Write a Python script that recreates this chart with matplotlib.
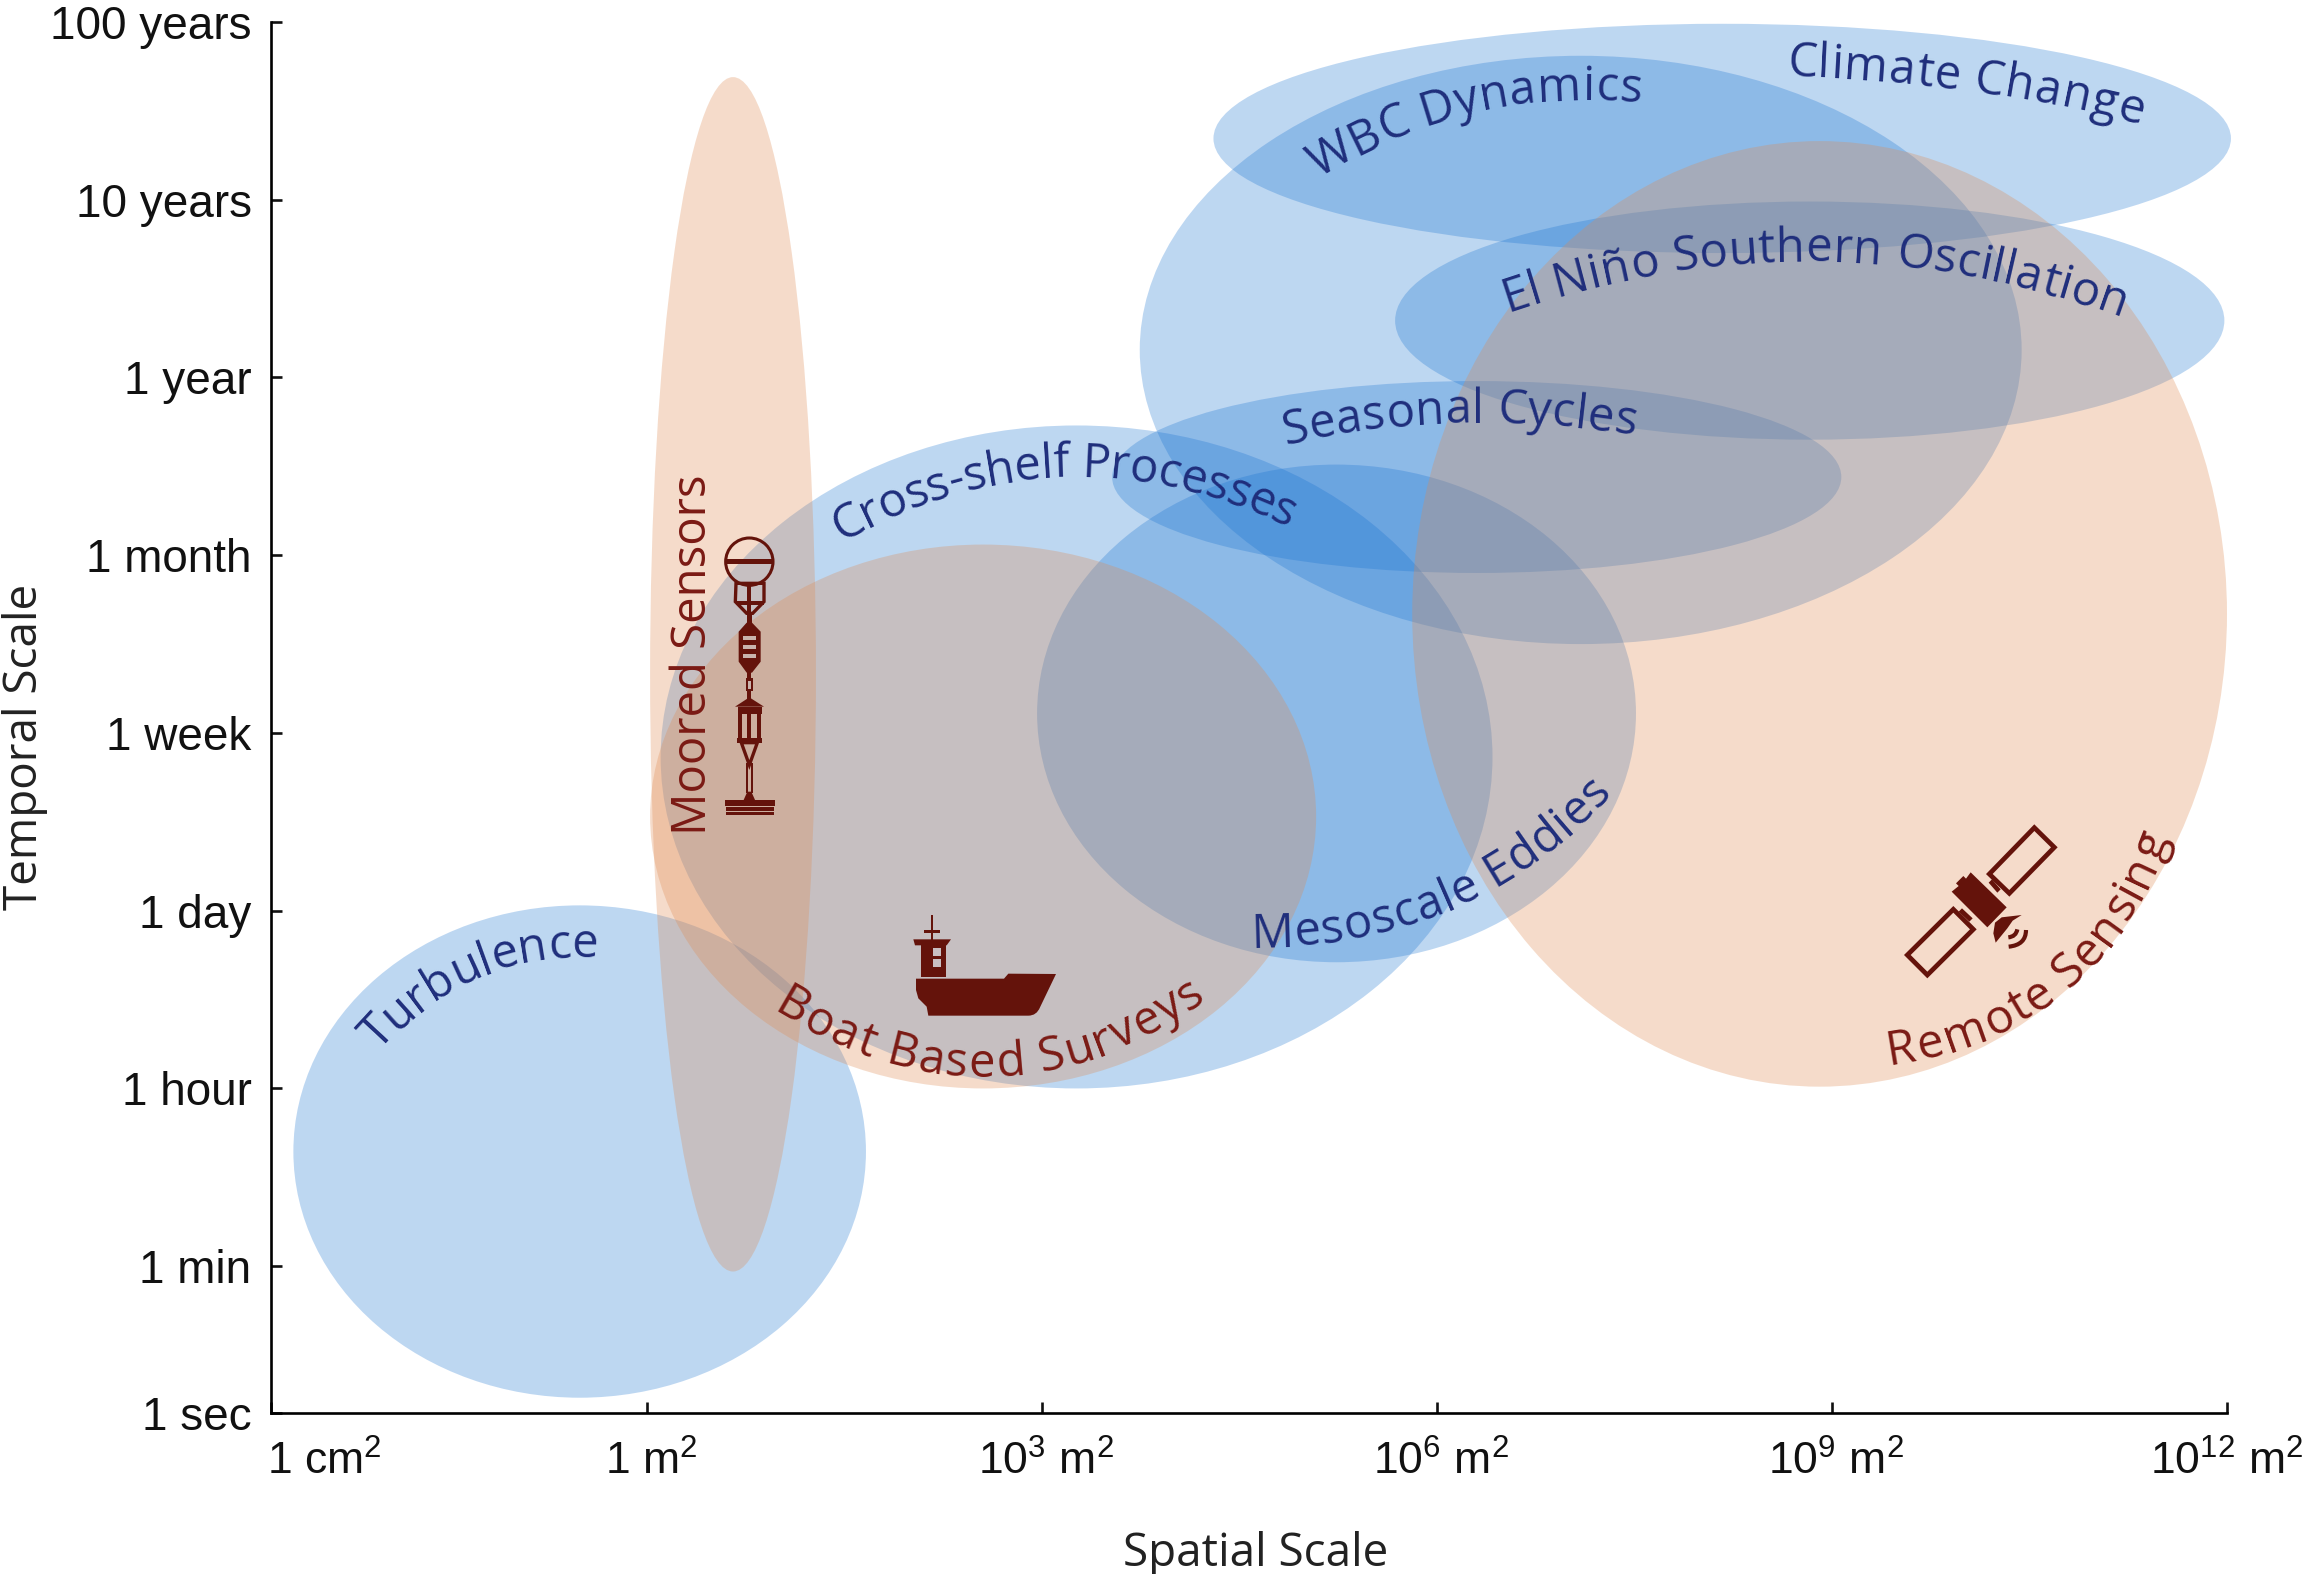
import numpy as np
import matplotlib
matplotlib.use('Agg')
import matplotlib.pyplot as plt
from matplotlib.patches import Ellipse, Polygon, Circle, Rectangle, PathPatch
from matplotlib.path import Path
from matplotlib.transforms import Affine2D, IdentityTransform, ScaledTranslation
from matplotlib import font_manager as fm
from matplotlib.ft2font import LoadFlags

plt.rcParams['font.family'] = ['Liberation Sans', 'DejaVu Sans']
plt.rcParams['mathtext.fontset'] = 'custom'
plt.rcParams['mathtext.rm'] = 'Liberation Sans'
plt.rcParams['mathtext.default'] = 'regular'

W, H = 2303, 1574
PREVIEW = W / 1568

# x = log10(area in m2), y = steps on the time axis (1 min = 0, 1 hour = 1, ...)
x_tick_pos = [-2.86, 0, 3, 6, 9, 12]
x_tick_labels = ['1 cm$^{2}$', '1 m$^{2}$', '10$^{3}$ m$^{2}$', '10$^{6}$ m$^{2}$',
                 '10$^{9}$ m$^{2}$', '10$^{12}$ m$^{2}$']
y_tick_pos = [-0.826, 0, 1, 2, 3, 4, 5, 6, 7]
y_tick_labels = ['1 sec', '1 min', '1 hour', '1 day', '1 week', '1 month', '1 year',
                 '10 years', '100 years']

# processes (blue)
blue_names = ['Turbulence', 'Cross-shelf Processes', 'Mesoscale Eddies', 'Seasonal Cycles',
              'WBC Dynamics', 'Climate Change', 'El Niño Southern Oscillation']
blue_x_low = [-2.69, 0.10, 2.96, 3.53, 3.74, 4.30, 5.68]
blue_x_high = [1.66, 6.42, 7.51, 9.07, 10.44, 12.03, 11.98]
blue_y_low = [-0.74, 1.00, 1.71, 3.90, 3.50, 5.70, 4.65]
blue_y_high = [2.03, 4.73, 4.51, 4.98, 6.81, 6.99, 5.99]

# platforms (orange)
orange_names = ['Boat Based Surveys', 'Remote Sensing', 'Moored Sensors']
orange_x_low = [0.02, 5.81, 0.02]
orange_x_high = [5.08, 12.0, 1.28]
orange_y_low = [1.00, 1.01, -0.03]
orange_y_high = [4.06, 6.33, 6.69]

BLUE = '#1470D0'
ORANGE = '#DE8A52'
NAVY = '#1F2E7C'
RED = '#7B1A14'
ICON = '#64130B'

# text baselines, in pixels of the 1568 wide preview
label_paths = {
    'Turbulence': [(258, 716), (326, 665), (407, 652)],
    'Cross-shelf Processes': [(573, 369), (720, 325), (877, 360)],
    'Mesoscale Eddies': [(851, 645), (985, 620), (1098, 540)],
    'Seasonal Cycles': [(875, 303), (990, 288), (1113, 297)],
    'WBC Dynamics': [(897, 122), (990, 80), (1117, 70)],
    'Climate Change': [(1216, 52), (1340, 62), (1458, 85)],
    'El Niño Southern Oscillation': [(1026, 213), (1230, 178), (1445, 217)],
    'Boat Based Surveys': [(525, 688), (680, 733), (822, 680)],
    'Remote Sensing': [(1285, 725), (1400, 680), (1476, 570)],
}
red_labels = ['Boat Based Surveys', 'Remote Sensing']

LABEL_FONT = fm.FontProperties(family='Open Sans')
LABEL_SIZE = 34


def curved_label(ax, text, pts, color, size=LABEL_SIZE):
    # one text per letter along a parabola through the baseline points
    pts = np.array(pts, dtype=float) * PREVIEW
    pts[:, 1] = H - pts[:, 1]
    seg = np.hypot(*np.diff(pts, axis=0).T)
    t = np.concatenate([[0], np.cumsum(seg)])
    px, py = np.polyfit(t, pts[:, 0], 2), np.polyfit(t, pts[:, 1], 2)
    tt = np.linspace(0, t[-1], 600)
    xx, yy = np.polyval(px, tt), np.polyval(py, tt)
    arc = np.concatenate([[0], np.cumsum(np.hypot(np.diff(xx), np.diff(yy)))])

    font = fm.get_font(fm.findfont(LABEL_FONT))
    font.set_size(size, 100)
    adv = np.array([font.load_char(ord(c), flags=LoadFlags.NO_HINTING).linearHoriAdvance / 65536
                    for c in text])
    gain = arc[-1] / adv.sum()
    mids = (np.cumsum(adv) - adv / 2) * gain
    for c, m in zip(text, mids):
        i = min(np.searchsorted(arc, m), len(xx) - 2)
        angle = np.degrees(np.arctan2(yy[i + 1] - yy[i], xx[i + 1] - xx[i]))
        ax.text(xx[i], yy[i], c, transform=IdentityTransform(), rotation=angle,
                rotation_mode='anchor', ha='center', va='baseline', color=color,
                fontproperties=LABEL_FONT, fontsize=size, zorder=6)


def crop_tf(x0, y0):
    # icon shapes are written in 3x crop pixels of the image
    return Affine2D().scale(1 / 3, -1 / 3).translate(x0, H - y0)


def poly(ax, tf, pts, fc=ICON, ec='none', lw=0):
    ax.add_patch(Polygon(pts, closed=True, fc=fc, ec=ec, lw=lw, transform=tf, zorder=5, clip_on=False))


def rect(ax, tf, x0, y0, x1, y1, fc=ICON):
    ax.add_patch(Rectangle((x0, y0), x1 - x0, y1 - y0, fc=fc, ec='none', transform=tf, zorder=5, clip_on=False))


def draw_buoy(ax):
    tf = crop_tf(640, 450)
    ax.add_patch(Circle((328, 335), 71, fc='none', ec=ICON, lw=2.2, transform=tf, zorder=5, clip_on=False))
    rect(ax, tf, 256, 328, 400, 342)
    # frame under the float
    poly(ax, tf, [(288, 400), (372, 400), (372, 455), (338, 490), (320, 490), (286, 455)],
         fc='none', ec=ICON, lw=2.4)
    rect(ax, tf, 322, 400, 334, 490)
    rect(ax, tf, 288, 452, 372, 464)
    rect(ax, tf, 320, 490, 336, 535)
    # upper instrument
    poly(ax, tf, [(320, 518), (336, 518), (362, 545), (362, 635), (336, 668), (320, 668), (296, 635), (296, 545)])
    for top in (557, 584, 611):
        rect(ax, tf, 310, top, 348, top + 14, fc='#C9B3AC')
    rect(ax, tf, 322, 665, 334, 690)
    rect(ax, tf, 317, 685, 339, 724)
    rect(ax, tf, 323, 692, 333, 716, fc='#C9B3AC')
    rect(ax, tf, 322, 720, 334, 748)
    # lower instrument
    poly(ax, tf, [(328, 742), (372, 770), (285, 770)])
    rect(ax, tf, 293, 770, 365, 792)
    rect(ax, tf, 291, 865, 367, 880)
    for left, right in ((295, 307), (322, 333), (350, 362)):
        rect(ax, tf, left, 790, right, 868)
    poly(ax, tf, [(304, 878), (328, 945), (352, 878)], fc='none', ec=ICON, lw=2.4)
    rect(ax, tf, 317, 940, 324, 1030)
    rect(ax, tf, 332, 940, 339, 1030)
    poly(ax, tf, [(322, 1025), (334, 1025), (346, 1052), (310, 1052)])
    rect(ax, tf, 254, 1051, 406, 1068)
    rect(ax, tf, 257, 1072, 403, 1082)
    rect(ax, tf, 257, 1086, 403, 1096)


def draw_ship(ax):
    tf = crop_tf(880, 890)
    rect(ax, tf, 152, 75, 160, 152)
    rect(ax, tf, 132, 119, 180, 128)
    poly(ax, tf, [(100, 148), (213, 148), (200, 166), (105, 166)])
    rect(ax, tf, 122, 160, 198, 260)
    for top in (175, 208):
        rect(ax, tf, 160, top, 184, top + 23, fc='#C9BFC2')
    verts = [(108, 266), (372, 266), (385, 251), (528, 252), (480, 352), (470, 377), (445, 377),
             (145, 377), (140, 350), (115, 325), (108, 300), (108, 266)]
    codes = [Path.MOVETO, Path.LINETO, Path.LINETO, Path.LINETO, Path.LINETO, Path.CURVE3, Path.CURVE3,
             Path.LINETO, Path.LINETO, Path.LINETO, Path.LINETO, Path.CLOSEPOLY]
    ax.add_patch(PathPatch(Path(verts, codes), fc=ICON, ec='none', transform=tf, zorder=5, clip_on=False))


def draw_satellite(ax):
    tf = crop_tf(1880, 800)
    poly(ax, tf, [(463, 83), (523, 142), (388, 280), (328, 222)], fc='none', ec=ICON, lw=3.4)
    poly(ax, tf, [(220, 328), (280, 388), (142, 525), (82, 465)], fc='none', ec=ICON, lw=3.4)
    poly(ax, tf, [(228, 250), (250, 228), (258, 236), (272, 217), (380, 322), (322, 382), (215, 275), (236, 258)])
    poly(ax, tf, [(326, 248), (336, 238), (362, 268), (352, 278)])
    poly(ax, tf, [(236, 335), (246, 325), (278, 355), (268, 365)])
    poly(ax, tf, [(345, 368), (365, 352), (425, 345), (398, 362), (382, 385), (347, 428), (340, 400)])
    for start, ctrl, end in (((385, 412), (408, 410), (412, 388)), ((386, 440), (438, 435), (438, 390))):
        arc = Path([start, ctrl, end], [Path.MOVETO, Path.CURVE3, Path.CURVE3])
        ax.add_patch(PathPatch(arc, fc='none', ec=ICON, lw=3.0, transform=tf, zorder=5, clip_on=False))


fig = plt.figure(figsize=(W / 100, H / 100), dpi=100)
ax = fig.add_axes([271 / W, (H - 1413) / H, (2227 - 271) / W, (1413 - 22) / H])

for xl, xh, yl, yh in zip(blue_x_low, blue_x_high, blue_y_low, blue_y_high):
    ax.add_patch(Ellipse(((xl + xh) / 2, (yl + yh) / 2), xh - xl, yh - yl, fc=BLUE, ec='none',
                         alpha=0.28, zorder=2, clip_on=False))
for xl, xh, yl, yh in zip(orange_x_low, orange_x_high, orange_y_low, orange_y_high):
    ax.add_patch(Ellipse(((xl + xh) / 2, (yl + yh) / 2), xh - xl, yh - yl, fc=ORANGE, ec='none',
                         alpha=0.3, zorder=3, clip_on=False))

ax.set_xlim(x_tick_pos[0], x_tick_pos[-1])
ax.set_ylim(y_tick_pos[0], y_tick_pos[-1])
ax.spines['top'].set_visible(False)
ax.spines['right'].set_visible(False)
ax.spines['left'].set_linewidth(1.9)
ax.spines['bottom'].set_linewidth(1.9)
ax.set_xticks(x_tick_pos)
ax.set_xticklabels(x_tick_labels)
ax.set_yticks(y_tick_pos)
ax.set_yticklabels(y_tick_labels)
ax.tick_params(axis='both', direction='in', length=8, width=1.9, color='#111111', labelcolor='#111111')
ax.tick_params(axis='x', pad=20, labelsize=32)
ax.tick_params(axis='y', pad=14, labelsize=33)
ax.get_xticklabels()[0].set_ha('left')
first = ax.get_xticklabels()[0]
first.set_transform(first.get_transform() + ScaledTranslation(-4 / 100, 0, fig.dpi_scale_trans))
shift = ScaledTranslation(4 / 100, 0, fig.dpi_scale_trans)
for t in ax.get_xticklabels()[1:5]:
    t.set_transform(t.get_transform() + shift)

ax.set_xlabel('Spatial Scale', fontproperties=LABEL_FONT, fontsize=33, color='#222222')
ax.xaxis.set_label_coords((855 * PREVIEW - 271) / (2227 - 271), -0.1015)
ax.set_ylabel('Temporal Scale', fontproperties=LABEL_FONT, fontsize=33, color='#222222')
ax.yaxis.set_label_coords((17 * PREVIEW - 271) / (2227 - 271), 0.4785, transform=ax.transAxes)
ax.yaxis.label.set_va('center')
ax.xaxis.label.set_va('center')

for name, pts in label_paths.items():
    curved_label(ax, name, pts, RED if name in red_labels else NAVY)
ax.text(481 * PREVIEW, H - 446 * PREVIEW, 'Moored Sensors', transform=IdentityTransform(),
        rotation=90, rotation_mode='anchor', ha='center', va='baseline', color=RED,
        fontproperties=LABEL_FONT, fontsize=LABEL_SIZE, zorder=6)

draw_buoy(ax)
draw_ship(ax)
draw_satellite(ax)

fig.savefig('out.png', dpi=100, facecolor='white')
